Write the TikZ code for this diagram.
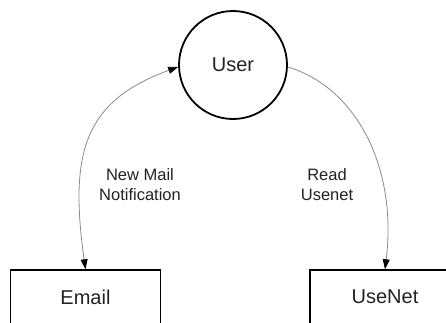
\documentclass[tikz,border=0pt]{standalone}
\usepackage{fontspec}
\setmainfont{Liberation Sans}
\usetikzlibrary{arrows.meta,positioning,calc}
\definecolor{textgray}{HTML}{222222}
\definecolor{flowgray}{HTML}{8A8A8A}

\begin{document}
\begin{tikzpicture}[x=1pt, y=1pt, >={Triangle[length=10pt,width=7pt,color=black]},
    entity/.style={draw=black, line width=1.5pt, minimum width=150pt, minimum height=54pt,
      text=textgray, font=\fontsize{20}{24}\selectfont},
    actor/.style={circle, draw=black, line width=1.8pt, minimum size=108pt, inner sep=0pt,
      text=textgray, font=\fontsize{20}{24}\selectfont},
    flow/.style={flowgray, line width=0.8pt},
    flowlabel/.style={align=center, text=textgray, font=\fontsize{16.5}{20}\selectfont}]
  \useasboundingbox (0,0) rectangle (446,-322);
  \node[actor] (user) at (233,-65) {User};
  \node[entity] (email) at (85.5,-297) {Email};
  \node[entity] (usenet) at (385,-297) {UseNet};
  \draw[flow, <->] (email.north) to[out=98, in=200, out distance=118pt, in distance=100pt] (user.182);
  \draw[flow, ->] (user.358) to[out=-17, in=83, out distance=73pt, in distance=101pt] (usenet.north);
  \node[flowlabel] (notify) at (140,-185) {New Mail\\Notification};
  \node[flowlabel] (read) at (327,-185) {Read\\Usenet};
\end{tikzpicture}
\end{document}
